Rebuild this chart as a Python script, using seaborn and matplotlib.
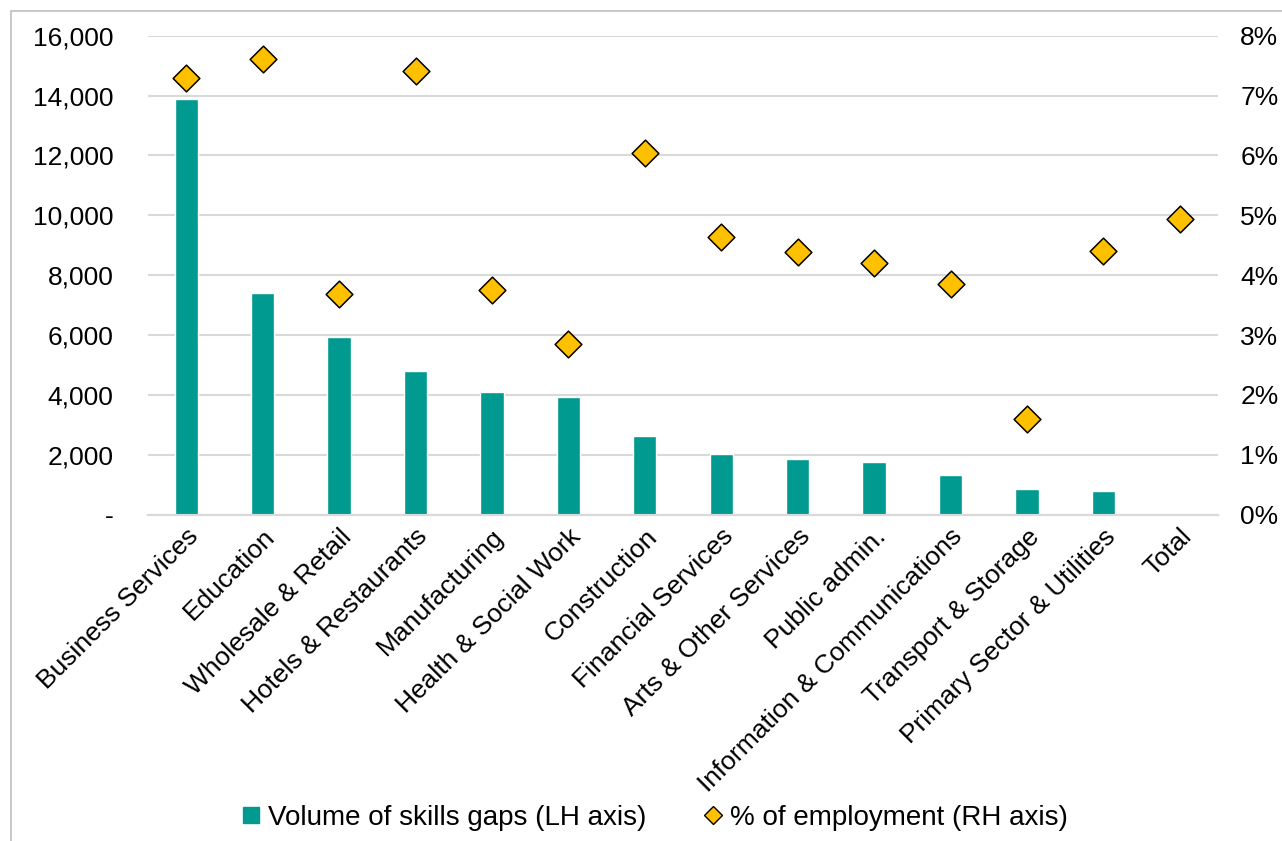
import numpy as np
import pandas as pd
import matplotlib
matplotlib.use("Agg")
import matplotlib.pyplot as plt
from matplotlib.lines import Line2D
from matplotlib.ticker import FuncFormatter, MultipleLocator
import seaborn as sns

categories = ["Business Services", "Education", "Wholesale & Retail", "Hotels & Restaurants",
              "Manufacturing", "Health & Social Work", "Construction", "Financial Services",
              "Arts & Other Services", "Public admin.", "Information & Communications",
              "Transport & Storage", "Primary Sector & Utilities", "Total"]
skills_gaps = [13870, 7390, 5920, 4800, 4090, 3930, 2640, 2030, 1850, 1750, 1315, 848, 791, np.nan]
pct_employment = [7.30, 7.61, 3.68, 7.41, 3.76, 2.85, 6.04, 4.63, 4.39, 4.21, 3.86, 1.59, 4.41, 4.94]

df = pd.DataFrame({"cat": categories, "gaps": skills_gaps, "pct": pct_employment,
                   "pos": np.arange(len(categories))})

sns.set_theme(style="white")
plt.rcParams["font.family"] = ["Liberation Sans", "DejaVu Sans"]
plt.rcParams["text.color"] = "black"
plt.rcParams["xtick.color"] = "black"
plt.rcParams["ytick.color"] = "black"
FS = 19

teal = "#009A90"
gold = "#FFC000"
grid = "#D9D9D9"

fig = plt.figure(figsize=(12.82, 8.41), dpi=100)
ax = fig.add_axes([148/1282, 1-514.7/841, (1218-148)/1282, (514.7-35.7)/841])
ax2 = ax.twinx()

sns.barplot(data=df, x="pos", y="gaps", color=teal, width=0.305, saturation=1,
            native_scale=True, ax=ax, zorder=2)
sns.scatterplot(data=df, x="pos", y="pct", marker="D", s=185, color=gold,
                edgecolor="black", linewidth=1.1, ax=ax2, zorder=3, legend=False)

ax.set_xlim(-0.5, len(categories) - 0.5)
ax.set_ylim(0, 16000)
ax2.set_ylim(0, 8)
ax.yaxis.set_major_locator(MultipleLocator(2000))
ax2.yaxis.set_major_locator(MultipleLocator(1))
ax.yaxis.set_major_formatter(FuncFormatter(lambda v, p: "-" if v == 0 else f"{v:,.0f}"))
ax2.yaxis.set_major_formatter(FuncFormatter(lambda v, p: f"{v:.0f}%"))

ax.set_xticks(df["pos"])
ax.set_xticklabels(categories, rotation=45, ha="right", rotation_mode="anchor", fontsize=FS)
ax.tick_params(axis="x", length=0, pad=7)
ax.tick_params(axis="y", length=0, pad=25, labelsize=FS)
ax2.tick_params(axis="y", length=0, pad=16, labelsize=FS)
ax.set_xlabel("")
ax.set_ylabel("")
ax2.set_ylabel("")
ax2.set_xlabel("")

ax.yaxis.grid(True, color=grid, linewidth=1.5, zorder=0)
ax.set_axisbelow(True)
for a in (ax, ax2):
    for s in ["left", "right", "top"]:
        a.spines[s].set_visible(False)
    a.spines["bottom"].set_color(grid)
    a.spines["bottom"].set_linewidth(1.5)
ax.patch.set_visible(False)

handles = [Line2D([], [], ls="none", marker="s", markersize=11, markerfacecolor=teal,
                  markeredgecolor=teal),
           Line2D([], [], ls="none", marker="D", markersize=9.5, markerfacecolor=gold,
                  markeredgecolor="black", markeredgewidth=1)]
fig.legend(handles, ["Volume of skills gaps (LH axis)", "% of employment (RH axis)"],
           loc="center", bbox_to_anchor=(0.509, 1-818/841), ncol=2, frameon=False,
           fontsize=20, handletextpad=0.1, columnspacing=1.9, handlelength=1.0)

# outer chart border (left and top)
fig.add_artist(Line2D([11/1282, 11/1282], [0, 1-11/841], transform=fig.transFigure,
                      color="#BFBFBF", linewidth=1.2))
fig.add_artist(Line2D([11/1282, 1], [1-11/841, 1-11/841], transform=fig.transFigure,
                      color="#BFBFBF", linewidth=1.2))

fig.savefig("out.png", dpi=100)
